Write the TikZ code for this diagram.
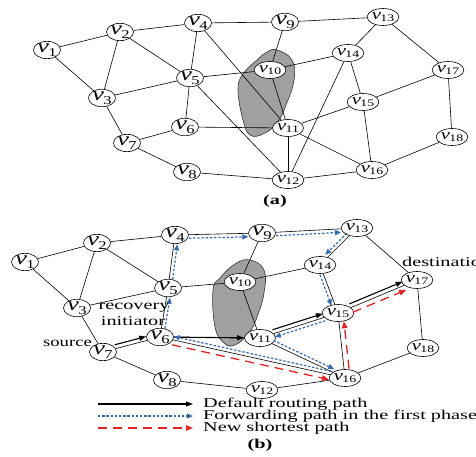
\documentclass[tikz,border=0pt]{standalone}
\usepackage{fontspec}
\setmainfont{Liberation Serif}
\usepackage{graphicx}
\usetikzlibrary{shapes.geometric,arrows.meta,calc}

\definecolor{fwdblue}{RGB}{55,105,175}
\definecolor{newred}{RGB}{225,35,35}
\definecolor{zone}{RGB}{160,160,160}

\pgfdeclarelayer{links}
\pgfdeclarelayer{zones}
\pgfsetlayers{zones,links,main}

% wide lettering used throughout the figure
\newcommand\sx[1]{\scalebox{1.5}[1]{#1}}
\newcommand\sv[1]{\scalebox{1.38}[1]{#1}}
\newcommand\vone[1]{\sv{\fontsize{19}{19}\selectfont\textit{v}\kern-0.6pt\raisebox{-0.4ex}{\fontsize{12}{12}\selectfont #1}}}
\newcommand\vtwo[1]{\sv{\fontsize{15}{15}\selectfont\textit{v}\kern-0.4pt\raisebox{-0.35ex}{\fontsize{10}{10}\selectfont #1}}}
\newcommand\vlab[1]{\ifnum#1<10 \vone{#1}\else\vtwo{#1}\fi}

% a path drawn parallel to the link between two vertices
\newcommand\along[4]{\draw[#1, transform canvas={shift={($(0,0)!#4!90:($(#3)-(#2)$)$)}}] (#2) -- (#3);}

\tikzset{
  vert/.style={ellipse, draw, fill=white, line width=0.6pt, minimum width=27pt, minimum height=17pt, inner sep=0pt},
  link/.style={line width=0.6pt},
  defpath/.style={line width=1.1pt, -{Triangle[length=7pt,width=5pt]}},
  fwdpath/.style={fwdblue, line width=1.2pt, dash pattern=on 2.4pt off 1.8pt, -{Triangle[length=6pt,width=5pt]}},
  newpath/.style={newred, line width=1.3pt, dash pattern=on 9pt off 6pt, -{Triangle[length=7pt,width=5.5pt]}},
  lbl/.style={inner sep=0pt, font=\fontsize{13.5}{13.5}\selectfont},
  failed/.style={fill=zone, draw=black!80, line width=0.6pt}
}

\begin{document}
\begin{tikzpicture}[x=1pt, y=-1pt]
\useasboundingbox (0,0) rectangle (476,457);

% ---------- (a) original topology ----------
\begin{pgfonlayer}{zones}
\fill[failed] plot[smooth cycle, tension=0.7] coordinates {(277,50) (292,60) (294,80) (286,105) (277,123) (263,134) (250,135) (243,120) (238,90) (243,74) (257,60) (267,52)};
\end{pgfonlayer}

\foreach \n/\x/\y in {1/47/50, 2/120/32, 3/102/98, 4/198/23, 5/190/78, 6/185/127, 7/127/143, 8/187/172, 9/285/22, 10/270/70, 11/288/128, 12/288/180, 13/383/17, 14/348/53, 15/363/102, 16/372/170, 17/448/70, 18/452/137}
  \node[vert] (a\n) at (\x,\y) {\vlab{\n}};

\begin{pgfonlayer}{links}
\foreach \p/\q in {1/2, 1/3, 2/3, 2/4, 2/5, 3/5, 3/7, 4/5, 4/9, 4/11, 5/6, 5/10, 5/12, 6/7, 6/11, 7/8, 8/12, 9/10, 9/13, 10/11, 10/14, 11/12, 11/15, 11/16, 12/14, 12/16, 13/14, 13/17, 14/15, 15/16, 15/17, 16/18, 17/18}
  \draw[link] (a\p) -- (a\q);
\end{pgfonlayer}

\node[lbl] (capa) at (275,201) {\sx{\textbf{(a)}}};

% ---------- (b) recovery paths ----------
\begin{pgfonlayer}{zones}
\fill[failed] plot[smooth cycle, tension=0.7] coordinates {(250,260) (264,270) (264,293) (257,317) (249,333) (235,345) (224,343) (215,327) (213,290) (220,278) (235,264)};
\end{pgfonlayer}

\foreach \n/\x/\y in {1/25/262, 2/97/243, 3/77/308, 4/175/235, 5/168/288, 6/160/337, 7/103/352, 8/167/380, 9/262/233, 10/240/282, 11/260/338, 12/262/390, 13/357/228, 14/320/265, 15/338/313, 16/345/378, 17/417/280, 18/423/348}
  \node[vert] (b\n) at (\x,\y) {\vlab{\n}};

\begin{pgfonlayer}{links}
\foreach \p/\q in {1/2, 1/3, 2/3, 2/4, 2/5, 3/5, 3/7, 4/5, 4/9, 5/6, 5/10, 6/7, 6/11, 6/16, 7/8, 8/12, 9/10, 9/13, 10/11, 10/14, 11/15, 11/16, 12/16, 13/14, 13/17, 14/15, 15/16, 15/17, 16/18, 17/18}
  \draw[link] (b\p) -- (b\q);
\end{pgfonlayer}

% default routing path
\along{defpath}{b7}{b6}{4pt}
\along{defpath}{b6}{b11}{0pt}
\along{defpath}{b11}{b15}{4pt}
\along{defpath}{b15}{b17}{4pt}

% forwarding path in the first phase
\along{fwdpath}{b6}{b5}{-3.5pt}
\along{fwdpath}{b5}{b4}{-3.5pt}
\along{fwdpath}{b4}{b9}{-3.5pt}
\along{fwdpath}{b9}{b13}{-3.5pt}
\along{fwdpath}{b13}{b14}{-3.5pt}
\along{fwdpath}{b14}{b15}{-3.5pt}
\along{fwdpath}{b15}{b11}{3.5pt}
\along{fwdpath}{b11}{b16}{3.5pt}
\along{fwdpath}{b16}{b6}{-3.5pt}

% new shortest path
\along{newpath}{b6}{b16}{-5pt}
\along{newpath}{b16}{b15}{-5pt}
\along{newpath}{b15}{b17}{-5pt}

\node[lbl] (rec) at (134,307.5) {\sx{recovery}};
\node[lbl] (ini) at (133,321.5) {\sx{initiator}};
\node[lbl, anchor=east] (src) at (92,343) {\sv{source}};
\node[lbl, anchor=west] (dst) at (402,262) {\sx{destination}};

% legend
\coordinate (l1s) at (98,404);  \coordinate (l1e) at (193,404);
\coordinate (l2s) at (98,416);  \coordinate (l2e) at (193,416);
\coordinate (l3s) at (98,428);  \coordinate (l3e) at (193,428);
\draw[defpath] (l1s) -- (l1e);
\draw[fwdpath] (l2s) -- (l2e);
\draw[newpath] (l3s) -- (l3e);
\node[lbl, anchor=west] (t1) at (203,404) {\sx{Default routing path}};
\node[lbl, anchor=west] (t2) at (203,416) {\sx{Forwarding path in the first phase}};
\node[lbl, anchor=west] (t3) at (203,428) {\sx{New shortest path}};

\node[lbl] (capb) at (260,445) {\sx{\textbf{(b)}}};
\end{tikzpicture}
\end{document}
